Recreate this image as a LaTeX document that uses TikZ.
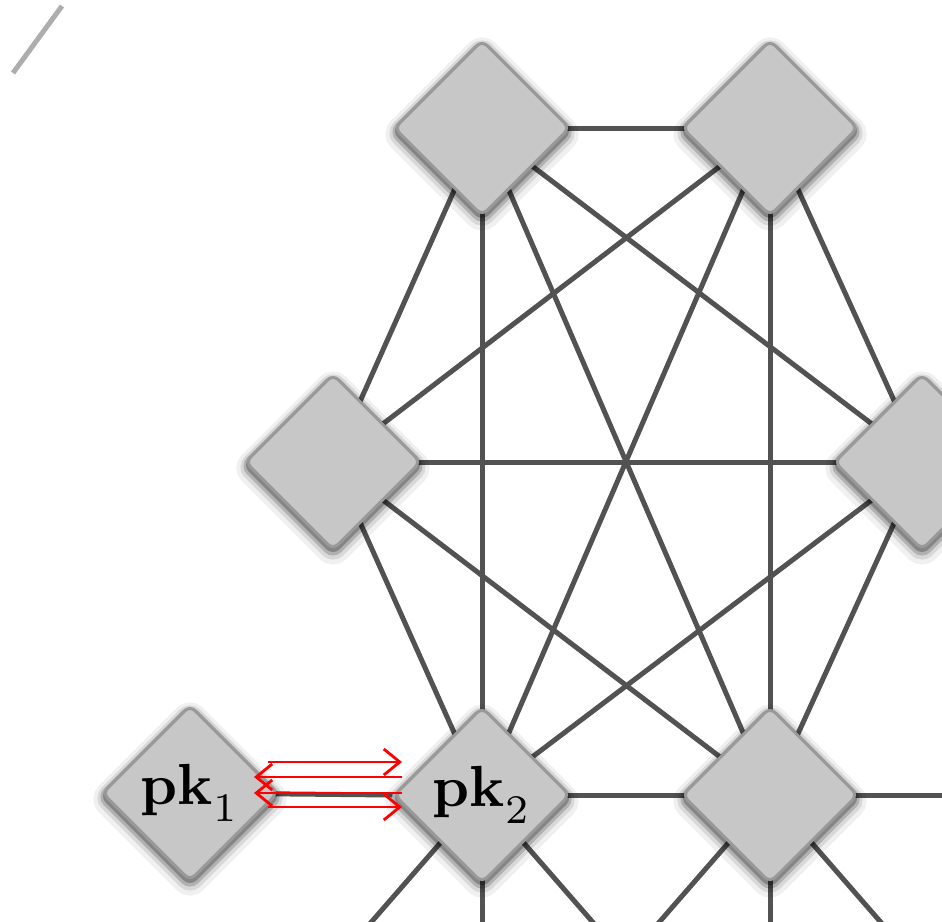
\documentclass[tikz,border=0pt]{standalone}
\usetikzlibrary{shapes.geometric,arrows.meta}
\pgfdeclarelayer{bg}
\pgfsetlayers{bg,main}
\newcommand{\pklabel}[1]{\scalebox{5.8}{$\mathbf{pk}_{\lower0.6pt\hbox{$\scriptstyle #1$}}$}}
\begin{document}
\begin{tikzpicture}[x=1pt,y=-1pt,
  edge/.style={draw=black!68, line width=5pt},
  vtx/.style={diamond, aspect=1, minimum width=176pt, minimum height=176pt,
    inner sep=0pt, fill=black!22, draw=black!40, line width=3pt, rounded corners=7pt,
    preaction={draw=black, draw opacity=0.06, line width=24pt, transform canvas={yshift=-6pt}},
    preaction={draw=black, draw opacity=0.10, line width=16pt, transform canvas={yshift=-5pt}},
    preaction={draw=black, draw opacity=0.18, line width=10pt, transform canvas={yshift=-4pt}},
    preaction={draw=black, draw opacity=0.25, line width=5pt, transform canvas={yshift=-3pt}}},
  redarr/.style={draw=red, line width=2.8pt, -{Straight Barb[length=16pt,width=26pt,line width=2.8pt]}},
  frag/.style={draw=black!32, line width=5pt}]
\useasboundingbox (0,0) rectangle (942,921);
\clip (0,0) rectangle (942,921);
% nodes
\node[vtx] (A) at (482,128) {};
\node[vtx] (B) at (770,128) {};
\node[vtx] (C) at (333,462) {};
\node[vtx] (D) at (922,462) {};
\node[vtx] (E) at (482,795) {\pklabel{2}};
\node[vtx] (F) at (770,795) {};
\node[vtx] (P) at (190,793) {\pklabel{1}};
% free ends of edges leaving the picture
\coordinate (e1) at (347,950);
\coordinate (e2) at (482,950);
\coordinate (e3) at (617,950);
\coordinate (f1) at (635,950);
\coordinate (f2) at (770,950);
\coordinate (f3) at (905,950);
\coordinate (f4) at (980,795);
\coordinate (g1) at (13,73);
\coordinate (g2) at (62,6);
\begin{pgfonlayer}{bg}
  \draw[edge] (A.center) -- (B.center);
  \draw[edge] (A.center) -- (C.center);
  \draw[edge] (A.center) -- (D.center);
  \draw[edge] (A.center) -- (E.center);
  \draw[edge] (A.center) -- (F.center);
  \draw[edge] (B.center) -- (C.center);
  \draw[edge] (B.center) -- (D.center);
  \draw[edge] (B.center) -- (E.center);
  \draw[edge] (B.center) -- (F.center);
  \draw[edge] (C.center) -- (D.center);
  \draw[edge] (C.center) -- (E.center);
  \draw[edge] (C.center) -- (F.center);
  \draw[edge] (D.center) -- (E.center);
  \draw[edge] (D.center) -- (F.center);
  \draw[edge] (E.center) -- (F.center);
  \draw[edge] (E.west) -- (P.center);
  \draw[edge] (E.center) -- (e1);
  \draw[edge] (E.center) -- (e2);
  \draw[edge] (E.center) -- (e3);
  \draw[edge] (F.center) -- (f1);
  \draw[edge] (F.center) -- (f2);
  \draw[edge] (F.center) -- (f3);
  \draw[edge] (F.center) -- (f4);
  \draw[frag] (g1) -- (g2);
\end{pgfonlayer}
% red arrows between pk1 and pk2
\path (P.center) ++(78,-31) coordinate (a1s);
\path (E.center) ++(-80,-33) coordinate (a1e);
\path (E.center) ++(-80,-18) coordinate (a2s);
\path (P.center) ++(64,-16) coordinate (a2e);
\path (E.center) ++(-80,-2) coordinate (a3s);
\path (P.center) ++(64,0) coordinate (a3e);
\path (P.center) ++(78,14) coordinate (a4s);
\path (E.center) ++(-80,12) coordinate (a4e);
\draw[redarr] (a1s) -- (a1e);
\draw[redarr] (a2s) -- (a2e);
\draw[redarr] (a3s) -- (a3e);
\draw[redarr] (a4s) -- (a4e);
\end{tikzpicture}
\end{document}
